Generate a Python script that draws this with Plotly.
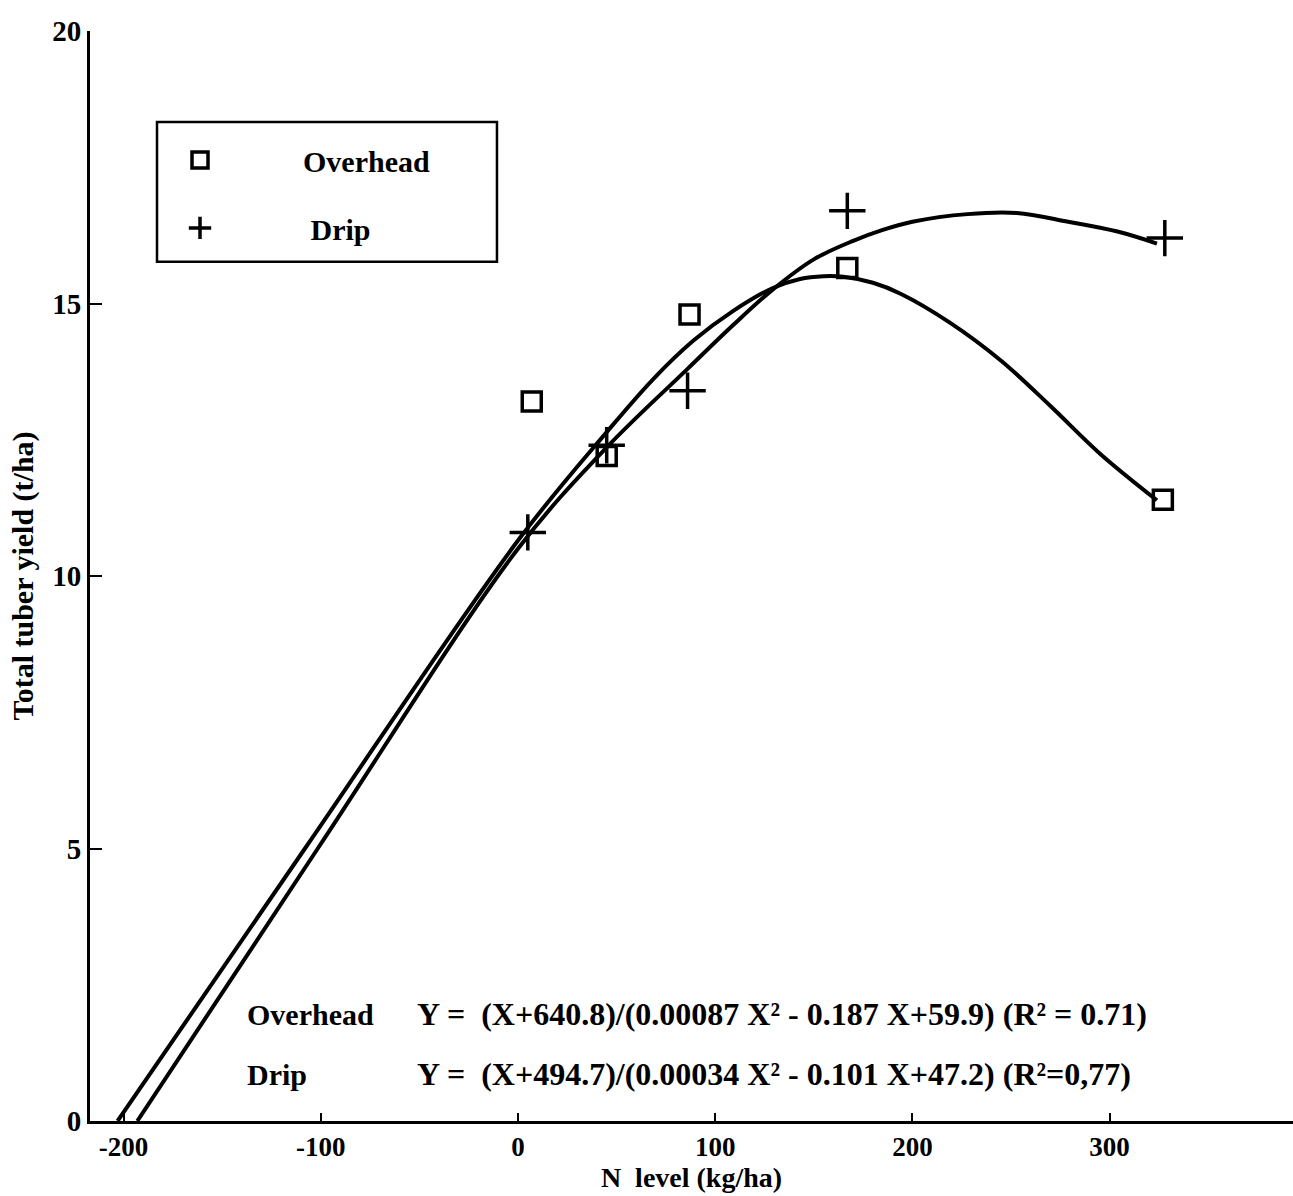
import plotly.graph_objects as go

# Observed points (N level kg/ha, total tuber yield t/ha)
n_overhead = [7, 45, 87, 167, 327]
yield_overhead = [13.2, 12.2, 14.8, 15.65, 11.4]
n_drip = [5, 45, 86, 167, 328]
yield_drip = [10.8, 12.4, 13.4, 16.7, 16.2]

# Fitted curves
curve_overhead_x = [-203, -108, 0, 45, 68.5, 89, 109, 129, 143, 155, 165, 180, 194, 219, 245, 270, 295, 324]
curve_overhead_y = [0, 5.0, 10.65, 12.64, 13.61, 14.32, 14.86, 15.28, 15.45, 15.5, 15.49, 15.38, 15.18, 14.65, 13.95, 13.12, 12.25, 11.39]
curve_drip_x = [-193, -101.5, 0, 45, 86, 109, 129, 150, 170, 185, 200, 228, 253, 279, 304, 324]
curve_drip_y = [0, 5.0, 10.5, 12.36, 13.8, 14.6, 15.25, 15.81, 16.15, 16.35, 16.5, 16.64, 16.66, 16.5, 16.32, 16.1]

x_ticks = [-200, -100, 0, 100, 200, 300]
y_ticks = [0, 5, 10, 15, 20]

eq_labels = ["Overhead", "Drip"]
eq_texts = ["Y =  (X+640.8)/(0.00087 X² - 0.187 X+59.9) (R² = 0.71)",
            "Y =  (X+494.7)/(0.00034 X² - 0.101 X+47.2) (R²=0,77)"]

FONT = "Liberation Serif"
NB = "\u00a0"

fig = go.Figure()
fig.add_trace(go.Scatter(x=curve_overhead_x, y=curve_overhead_y, mode="lines",
                         line=dict(color="black", width=4, shape="spline", smoothing=1),
                         showlegend=False, hoverinfo="skip"))
fig.add_trace(go.Scatter(x=curve_drip_x, y=curve_drip_y, mode="lines",
                         line=dict(color="black", width=4, shape="spline", smoothing=1),
                         showlegend=False, hoverinfo="skip"))
fig.add_trace(go.Scatter(x=n_overhead, y=yield_overhead, mode="markers",
                         name=NB * 8 + "Overhead", legendgroup="o",
                         marker=dict(symbol="square-open", size=19, color="black",
                                     line=dict(width=3.5, color="black"))))
fig.add_trace(go.Scatter(x=n_drip, y=yield_drip, mode="markers",
                         name=NB * 9 + "Drip", legendgroup="d",
                         marker=dict(symbol="cross-thin-open", size=26, color="black",
                                     line=dict(width=3.5, color="black"))))

eq_y = [0.0981, 0.0431]
for lab, txt, yy in zip(eq_labels, eq_texts, eq_y):
    fig.add_annotation(xref="paper", yref="paper", x=0.129, y=yy, text="<b>" + lab + "</b>",
                       showarrow=False, xanchor="left", yanchor="middle",
                       font=dict(family=FONT, size=30, color="black"))
    fig.add_annotation(xref="paper", yref="paper", x=0.270, y=yy, text="<b>" + txt + "</b>",
                       showarrow=False, xanchor="left", yanchor="middle",
                       font=dict(family=FONT, size=32, color="black"))

# legend frame
fig.add_shape(type="rect", xref="paper", yref="paper", x0=0.0557, x1=0.3383, y0=0.7883, y1=0.9166,
              line=dict(color="black", width=2.5), fillcolor="rgba(0,0,0,0)")

fig.update_layout(
    width=1293, height=1196,
    margin=dict(l=90, r=0, t=31, b=75),
    paper_bgcolor="white", plot_bgcolor="white",
    font=dict(family=FONT, color="black", size=28),
    legend=dict(x=0.0557, y=0.9056, xanchor="left", yanchor="top",
                borderwidth=0, bgcolor="rgba(0,0,0,0)",
                font=dict(family=FONT, size=30, color="black", weight="bold"),
                itemwidth=76, tracegroupgap=26),
    xaxis=dict(range=[-217, 393], tickvals=x_ticks, ticktext=[str(v) for v in x_ticks],
               showgrid=False, zeroline=False, showline=True, linecolor="black", linewidth=3,
               ticks="inside", ticklen=8, tickwidth=2, tickcolor="black",
               tickfont=dict(family=FONT, size=27, color="black", weight=700),
               title=dict(text="<b>N  level (kg/ha)</b>", standoff=1,
                          font=dict(family=FONT, size=28, color="black"))),
    yaxis=dict(range=[0, 20], tickvals=y_ticks, ticktext=[str(v) for v in y_ticks],
               showgrid=False, zeroline=False, showline=True, linecolor="black", linewidth=3,
               ticks="inside", ticklen=12, tickwidth=2, tickcolor="black",
               tickfont=dict(family=FONT, size=29, color="black", weight=700),
               title=dict(text="<b>Total tuber yield (t/ha)</b>", standoff=10,
                          font=dict(family=FONT, size=30, color="black"))),
)

fig.write_html("out.html")
